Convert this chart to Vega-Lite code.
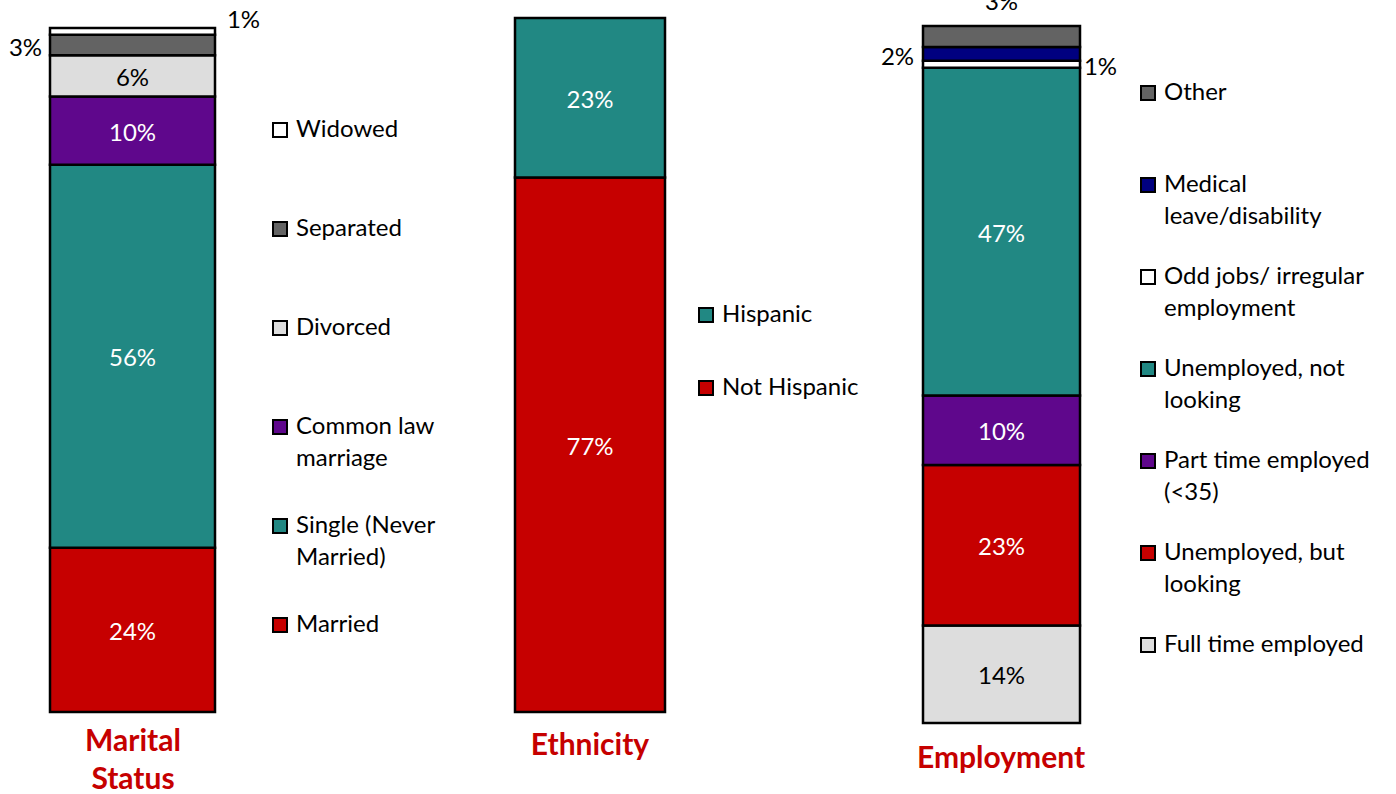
{
  "$schema": "https://vega.github.io/schema/vega-lite/v6.json",
  "background": "white",
  "padding": 0,
  "bounds": "flush",
  "spacing": 0,
  "datasets": {
    "marital": [
      {"panel": "Marital Status", "category": "Married", "value": 24, "rank": 1},
      {"panel": "Marital Status", "category": "Single (Never Married)", "value": 56, "rank": 2},
      {"panel": "Marital Status", "category": "Common law marriage", "value": 10, "rank": 3},
      {"panel": "Marital Status", "category": "Divorced", "value": 6, "rank": 4},
      {"panel": "Marital Status", "category": "Separated", "value": 3, "rank": 5},
      {"panel": "Marital Status", "category": "Widowed", "value": 1, "rank": 6}
    ],
    "ethnicity": [
      {"panel": "Ethnicity", "category": "Not Hispanic", "value": 77, "rank": 1},
      {"panel": "Ethnicity", "category": "Hispanic", "value": 23, "rank": 2}
    ],
    "employment": [
      {"panel": "Employment", "category": "Full time employed", "value": 14, "rank": 1},
      {"panel": "Employment", "category": "Unemployed, but looking", "value": 23, "rank": 2},
      {"panel": "Employment", "category": "Part time employed (<35)", "value": 10, "rank": 3},
      {"panel": "Employment", "category": "Unemployed, not looking", "value": 47, "rank": 4},
      {"panel": "Employment", "category": "Odd jobs/ irregular employment", "value": 1, "rank": 5},
      {"panel": "Employment", "category": "Medical leave/disability", "value": 2, "rank": 6},
      {"panel": "Employment", "category": "Other", "value": 3, "rank": 7}
    ]
  },
  "hconcat": [
    {
      "width": 480,
      "height": 712,
      "data": {"name": "marital"},
      "title": {"text": ["Marital", "Status"], "anchor": "middle", "dx": -107, "offset": 14},
      "transform": [
        {"stack": "value", "groupby": [], "sort": [{"field": "rank", "order": "ascending"}], "as": ["y0", "y1"]},
        {"calculate": "(datum.y0 + datum.y1) / 2", "as": "mid"},
        {"calculate": "datum.value + '%'", "as": "pct"}
      ],
      "encoding": {
        "x": {"field": "panel", "type": "nominal", "axis": null, "scale": {"range": [50, 215], "paddingInner": 0, "paddingOuter": 0}},
        "y": {"field": "mid", "type": "quantitative", "axis": null, "scale": {"domain": [0, 100], "range": [712, 28], "nice": false, "zero": true}}
      },
      "layer": [
        {
          "mark": {"type": "bar", "stroke": "black", "strokeWidth": 2.5},
          "encoding": {
            "y": {"field": "y0", "type": "quantitative"},
            "y2": {"field": "y1"},
            "order": {"field": "rank", "type": "quantitative"},
            "color": {
              "field": "category", "type": "nominal",
              "scale": {
                "domain": ["Widowed", "Separated", "Divorced", "Common law marriage", "Single (Never Married)", "Married"],
                "range": ["#FFFFFF", "#636363", "#DDDDDD", "#5F078C", "#218883", "#C60000"]
              },
              "legend": {
                "orient": "none", "legendX": 268, "legendY": 118, "rowPadding": 43,
                "labelExpr": "datum.label == 'Common law marriage' ? ['Common law', 'marriage'] : datum.label == 'Single (Never Married)' ? ['Single (Never', 'Married)'] : datum.label",
                "encode": {"labels": {"update": {"lineHeight": {"value": 32}}}}
              }
            }
          }
        },
        {
          "transform": [{"filter": "datum.value >= 5"}],
          "mark": {"type": "text", "font": "Lato", "fontSize": 24, "baseline": "middle", "dy": 3},
          "encoding": {
            "text": {"field": "pct"},
            "color": {"condition": {"test": "datum.category == 'Divorced'", "value": "black"}, "value": "white"}
          }
        },
        {
          "transform": [{"filter": "datum.category == 'Separated'"}],
          "mark": {"type": "text", "font": "Lato", "fontSize": 24, "baseline": "middle", "color": "black", "dx": -107, "dy": 4},
          "encoding": {"text": {"field": "pct"}}
        },
        {
          "transform": [{"filter": "datum.category == 'Widowed'"}],
          "mark": {"type": "text", "font": "Lato", "fontSize": 24, "baseline": "middle", "color": "black", "dx": 111, "dy": -10},
          "encoding": {"text": {"field": "pct"}}
        }
      ]
    },
    {
      "width": 400,
      "height": 712,
      "data": {"name": "ethnicity"},
      "title": {"text": "Ethnicity", "anchor": "middle", "dx": -90, "offset": 18},
      "transform": [
        {"stack": "value", "groupby": [], "sort": [{"field": "rank", "order": "ascending"}], "as": ["y0", "y1"]},
        {"calculate": "(datum.y0 + datum.y1) / 2", "as": "mid"},
        {"calculate": "datum.value + '%'", "as": "pct"}
      ],
      "encoding": {
        "x": {"field": "panel", "type": "nominal", "axis": null, "scale": {"range": [35, 185], "paddingInner": 0, "paddingOuter": 0}},
        "y": {"field": "mid", "type": "quantitative", "axis": null, "scale": {"domain": [0, 100], "range": [712, 18], "nice": false, "zero": true}}
      },
      "layer": [
        {
          "mark": {"type": "bar", "stroke": "black", "strokeWidth": 2.5},
          "encoding": {
            "y": {"field": "y0", "type": "quantitative"},
            "y2": {"field": "y1"},
            "order": {"field": "rank", "type": "quantitative"},
            "color": {
              "field": "category", "type": "nominal",
              "scale": {"domain": ["Hispanic", "Not Hispanic"], "range": ["#218883", "#C60000"]},
              "legend": {"orient": "none", "legendX": 214, "legendY": 303, "rowPadding": 49}
            }
          }
        },
        {
          "mark": {"type": "text", "font": "Lato", "fontSize": 24, "baseline": "middle", "color": "white", "dy": 3},
          "encoding": {"text": {"field": "pct"}}
        }
      ]
    },
    {
      "width": 516,
      "height": 723,
      "data": {"name": "employment"},
      "title": {"text": "Employment", "anchor": "middle", "dx": -137, "offset": 20},
      "transform": [
        {"stack": "value", "groupby": [], "sort": [{"field": "rank", "order": "ascending"}], "as": ["y0", "y1"]},
        {"calculate": "(datum.y0 + datum.y1) / 2", "as": "mid"},
        {"calculate": "datum.value + '%'", "as": "pct"}
      ],
      "encoding": {
        "x": {"field": "panel", "type": "nominal", "axis": null, "scale": {"range": [43, 200], "paddingInner": 0, "paddingOuter": 0}},
        "y": {"field": "mid", "type": "quantitative", "axis": null, "scale": {"domain": [0, 100], "range": [723, 26], "nice": false, "zero": true}}
      },
      "layer": [
        {
          "mark": {"type": "bar", "stroke": "black", "strokeWidth": 2.5},
          "encoding": {
            "y": {"field": "y0", "type": "quantitative"},
            "y2": {"field": "y1"},
            "order": {"field": "rank", "type": "quantitative"},
            "color": {
              "field": "category", "type": "nominal",
              "scale": {
                "domain": ["Other", "Medical leave/disability", "Odd jobs/ irregular employment", "Unemployed, not looking", "Part time employed (<35)", "Unemployed, but looking", "Full time employed"],
                "range": ["#636363", "#000080", "#FFFFFF", "#218883", "#5F078C", "#C60000", "#DDDDDD"]
              },
              "legend": {
                "orient": "none", "legendX": 256, "legendY": 81, "rowPadding": 36,
                "labelExpr": "datum.label == 'Medical leave/disability' ? ['Medical', 'leave/disability'] : datum.label == 'Odd jobs/ irregular employment' ? ['Odd jobs/ irregular', 'employment'] : datum.label == 'Unemployed, not looking' ? ['Unemployed, not', 'looking'] : datum.label == 'Part time employed (<35)' ? ['Part time employed', '(<35)'] : datum.label == 'Unemployed, but looking' ? ['Unemployed, but', 'looking'] : datum.label",
                "encode": {"labels": {"update": {"lineHeight": {"value": 32}}}}
              }
            }
          }
        },
        {
          "transform": [{"filter": "datum.value >= 5"}],
          "mark": {"type": "text", "font": "Lato", "fontSize": 24, "baseline": "middle", "dy": 3},
          "encoding": {
            "text": {"field": "pct"},
            "color": {"condition": {"test": "datum.category == 'Full time employed'", "value": "black"}, "value": "white"}
          }
        },
        {
          "transform": [{"filter": "datum.category == 'Other'"}],
          "mark": {"type": "text", "font": "Lato", "fontSize": 24, "baseline": "middle", "color": "black", "dy": -33, "clip": true},
          "encoding": {"text": {"field": "pct"}}
        },
        {
          "transform": [{"filter": "datum.category == 'Medical leave/disability'"}],
          "mark": {"type": "text", "font": "Lato", "fontSize": 24, "baseline": "middle", "color": "black", "dx": -104, "dy": 4},
          "encoding": {"text": {"field": "pct"}}
        },
        {
          "transform": [{"filter": "datum.category == 'Odd jobs/ irregular employment'"}],
          "mark": {"type": "text", "font": "Lato", "fontSize": 24, "baseline": "middle", "color": "black", "dx": 99, "dy": 4},
          "encoding": {"text": {"field": "pct"}}
        }
      ]
    }
  ],
  "resolve": {
    "scale": {"color": "independent", "x": "independent", "y": "independent"},
    "legend": {"color": "independent"}
  },
  "config": {
    "view": {"stroke": null},
    "title": {"font": "Lato", "fontSize": 30, "fontWeight": "bold", "color": "#C60000", "orient": "bottom", "lineHeight": 38},
    "legend": {
      "title": null,
      "padding": 0,
      "gridAlign": "all",
      "labelFont": "Lato",
      "labelFontSize": 24,
      "labelColor": "black",
      "labelLimit": 400,
      "labelOffset": 4,
      "symbolType": "square",
      "symbolSize": 196,
      "symbolStrokeColor": "black",
      "symbolStrokeWidth": 2,
      "symbolOpacity": 1
    }
  }
}
